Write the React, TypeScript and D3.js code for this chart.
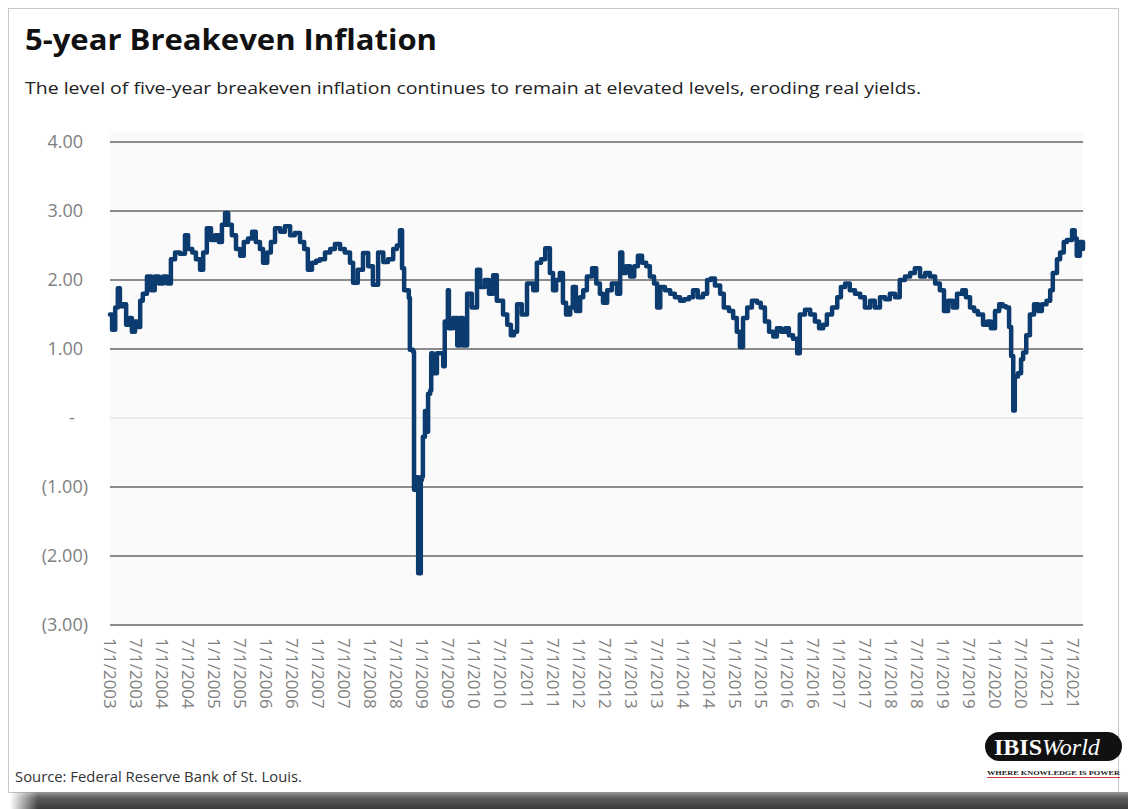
import React from "react";
import * as d3 from "d3";

const yearsFrac = [
  2003.00, 2003.04, 2003.10, 2003.15, 2003.19, 2003.25, 2003.31, 2003.37, 2003.42, 2003.48, 2003.52, 2003.58, 2003.63, 2003.71, 2003.79, 2003.86, 2003.94,
  2004.02, 2004.10, 2004.17, 2004.25, 2004.34, 2004.44, 2004.50, 2004.58, 2004.65, 2004.73, 2004.79, 2004.86, 2004.94,
  2005.02, 2005.09, 2005.15, 2005.21, 2005.27, 2005.34, 2005.42, 2005.50, 2005.57, 2005.65, 2005.73, 2005.80, 2005.88, 2005.94,
  2006.02, 2006.09, 2006.17, 2006.27, 2006.36, 2006.46, 2006.55, 2006.65, 2006.73, 2006.80, 2006.88, 2006.96,
  2007.03, 2007.13, 2007.23, 2007.32, 2007.42, 2007.51, 2007.61, 2007.67, 2007.76, 2007.86, 2007.96,
  2008.05, 2008.15, 2008.25, 2008.34, 2008.44, 2008.51, 2008.57, 2008.61, 2008.65, 2008.74, 2008.76, 2008.82, 2008.84, 2008.90, 2008.92, 2008.97, 2008.99,
  2009.01, 2009.05, 2009.09, 2009.11, 2009.15, 2009.17, 2009.20, 2009.28, 2009.40, 2009.43, 2009.49, 2009.51, 2009.59, 2009.67, 2009.72, 2009.78, 2009.86, 2009.95,
  2010.05, 2010.11, 2010.20, 2010.28, 2010.36, 2010.43, 2010.55, 2010.63, 2010.70, 2010.76, 2010.82, 2010.91,
  2011.01, 2011.13, 2011.20, 2011.28, 2011.36, 2011.45, 2011.51, 2011.57, 2011.64, 2011.70, 2011.76, 2011.84, 2011.89, 2011.95,
  2012.03, 2012.09, 2012.16, 2012.26, 2012.34, 2012.41, 2012.47, 2012.55, 2012.64, 2012.74, 2012.80, 2012.84, 2012.91, 2012.99,
  2013.07, 2013.14, 2013.22, 2013.30, 2013.37, 2013.45, 2013.51, 2013.57, 2013.66, 2013.76, 2013.85, 2013.95,
  2014.03, 2014.12, 2014.20, 2014.29, 2014.39, 2014.47, 2014.54, 2014.62, 2014.72, 2014.79, 2014.89, 2014.97,
  2015.04, 2015.10, 2015.16, 2015.24, 2015.33, 2015.43, 2015.50, 2015.58, 2015.66, 2015.74, 2015.81, 2015.89, 2015.97,
  2016.04, 2016.12, 2016.20, 2016.25, 2016.35, 2016.45, 2016.54, 2016.62, 2016.70, 2016.77, 2016.87, 2016.97,
  2017.04, 2017.12, 2017.21, 2017.31, 2017.41, 2017.50, 2017.60, 2017.69, 2017.79, 2017.89, 2017.98,
  2018.08, 2018.17, 2018.27, 2018.37, 2018.46, 2018.56, 2018.66, 2018.75, 2018.85, 2018.94,
  2019.02, 2019.10, 2019.19, 2019.27, 2019.37, 2019.44, 2019.52, 2019.60, 2019.67, 2019.77, 2019.85, 2019.92,
  2020.00, 2020.08, 2020.15, 2020.21, 2020.27, 2020.31, 2020.35, 2020.38, 2020.44, 2020.50, 2020.54, 2020.60, 2020.67, 2020.75, 2020.83, 2020.90, 2020.99,
  2021.06, 2021.11, 2021.19, 2021.25, 2021.32, 2021.38, 2021.48, 2021.53, 2021.57, 2021.63, 2021.69,
];

const breakevenValues = [
  1.50, 1.28, 1.60, 1.88, 1.62, 1.65, 1.35, 1.45, 1.25, 1.40, 1.32, 1.70, 1.80, 2.05, 1.85, 2.05, 1.95,
  2.05, 1.95, 2.30, 2.40, 2.38, 2.65, 2.45, 2.40, 2.30, 2.15, 2.40, 2.75, 2.58,
  2.65, 2.55, 2.80, 2.97, 2.80, 2.65, 2.45, 2.35, 2.55, 2.60, 2.70, 2.55, 2.45, 2.25,
  2.40, 2.55, 2.75, 2.70, 2.78, 2.65, 2.68, 2.55, 2.45, 2.15, 2.25, 2.28,
  2.30, 2.40, 2.45, 2.52, 2.45, 2.40, 2.25, 1.96, 2.15, 2.39, 2.20,
  1.93, 2.40, 2.26, 2.30, 2.45, 2.50, 2.72, 2.17, 1.85, 1.74, 0.99, 0.96, -1.04, -0.86, -2.25, -0.90, -0.85,
  -0.27, 0.10, -0.20, 0.35, 0.40, 0.94, 0.65, 0.94, 0.75, 1.40, 1.85, 1.30, 1.45, 1.05, 1.45, 1.05, 1.80, 1.60,
  2.15, 1.90, 2.00, 1.80, 2.07, 1.70, 1.50, 1.35, 1.20, 1.25, 1.65, 1.50,
  1.95, 1.85, 2.25, 2.30, 2.46, 2.10, 1.85, 2.00, 2.10, 1.67, 1.50, 1.60, 1.90, 1.55,
  1.75, 1.85, 2.05, 2.17, 1.95, 1.80, 1.67, 1.85, 1.95, 1.80, 2.40, 2.10, 2.20, 2.05,
  2.20, 2.35, 2.25, 2.20, 2.05, 1.95, 1.60, 1.90, 1.85, 1.80, 1.75, 1.70,
  1.72, 1.75, 1.85, 1.75, 1.80, 2.00, 2.02, 1.92, 1.80, 1.60, 1.55, 1.45,
  1.25, 1.03, 1.45, 1.60, 1.70, 1.67, 1.60, 1.40, 1.25, 1.18, 1.30, 1.25, 1.30,
  1.20, 1.15, 0.94, 1.50, 1.57, 1.50, 1.40, 1.30, 1.35, 1.50, 1.60, 1.75,
  1.90, 1.95, 1.85, 1.80, 1.75, 1.60, 1.70, 1.60, 1.75, 1.72, 1.80,
  1.75, 2.00, 2.05, 2.10, 2.17, 2.05, 2.10, 2.05, 1.95, 1.85,
  1.55, 1.70, 1.60, 1.80, 1.85, 1.75, 1.60, 1.55, 1.50, 1.35, 1.40, 1.30,
  1.55, 1.65, 1.62, 1.60, 1.32, 0.90, 0.11, 0.60, 0.65, 0.85, 0.95, 1.20, 1.50, 1.65, 1.55, 1.65, 1.70,
  1.85, 2.10, 2.30, 2.40, 2.55, 2.58, 2.72, 2.60, 2.35, 2.55, 2.45,
];

const yTicks = [4, 3, 2, 1, 0, -1, -2, -3];
const yTickLabels = ["4.00", "3.00", "2.00", "1.00", "-", "(1.00)", "(2.00)", "(3.00)"];

const xTickLabels = [
  "1/1/2003", "7/1/2003", "1/1/2004", "7/1/2004", "1/1/2005", "7/1/2005", "1/1/2006", "7/1/2006",
  "1/1/2007", "7/1/2007", "1/1/2008", "7/1/2008", "1/1/2009", "7/1/2009", "1/1/2010", "7/1/2010",
  "1/1/2011", "7/1/2011", "1/1/2012", "7/1/2012", "1/1/2013", "7/1/2013", "1/1/2014", "7/1/2014",
  "1/1/2015", "7/1/2015", "1/1/2016", "7/1/2016", "1/1/2017", "7/1/2017", "1/1/2018", "7/1/2018",
  "1/1/2019", "7/1/2019", "1/1/2020", "7/1/2020", "1/1/2021", "7/1/2021",
];

const titleText = "5-year Breakeven Inflation";
const subtitleText = "The level of five-year breakeven inflation continues to remain at elevated levels, eroding real yields.";
const sourceText = "Source: Federal Reserve Bank of St. Louis.";

const labelToYear = (s: string) => {
  const [m, , y] = s.split("/").map(Number);
  return y + (m - 1) / 12;
};

export default function App() {
  const W = 1128;
  const H = 809;
  const plotLeft = 110;
  const plotRight = 1083;
  const x = d3.scaleLinear().domain([2003, 2021.69]).range([plotLeft, plotRight]);
  const y = d3.scaleLinear().domain([-3, 4]).range([625, 142]);

  const pts = yearsFrac.map((t, i) => [t, breakevenValues[i]] as [number, number]);
  const line = d3
    .line<[number, number]>()
    .x((d) => x(d[0]))
    .y((d) => y(d[1]))
    .curve(d3.curveStepAfter);

  const axisFont = "'Open Sans', 'Noto Sans', sans-serif";
  const gray = "#808080";

  return (
    <svg
      width={W}
      height={H}
      viewBox={`0 0 ${W} ${H}`}
      style={{ position: "absolute", left: 0, top: 0, background: "#fff" }}
    >
      <defs>
        <linearGradient id="shadowV" x1="0" y1="0" x2="0" y2="1">
          <stop offset="0" stopColor="#9a9a9a" />
          <stop offset="0.35" stopColor="#5c5c5c" />
          <stop offset="1" stopColor="#3a3a3a" />
        </linearGradient>
        <linearGradient id="shadowH" x1="0" y1="0" x2="1" y2="0">
          <stop offset="0" stopColor="#fff" stopOpacity="0" />
          <stop offset="0.025" stopColor="#fff" stopOpacity="1" />
          <stop offset="1" stopColor="#fff" stopOpacity="1" />
        </linearGradient>
        <mask id="shadowMask">
          <rect x={10} y={790} width={W - 10} height={H - 790} fill="url(#shadowH)" />
        </mask>
      </defs>
      <rect x={0} y={0} width={W} height={H} fill="#fff" />
      {/* frame */}
      <rect x={8.5} y={8.5} width={1110} height={784} fill="none" stroke="#c8c8c8" strokeWidth={1} />
      {/* bottom shadow */}
      <rect x={10} y={792} width={W - 10} height={H - 792} fill="url(#shadowV)" mask="url(#shadowMask)" />

      {/* titles */}
      <text
        x={25}
        y={50}
        fontFamily={axisFont}
        fontWeight={700}
        fontSize={28}
        fill="#111"
        textLength={412}
        lengthAdjust="spacingAndGlyphs"
      >
        {titleText}
      </text>
      <text
        x={25}
        y={94}
        fontFamily={axisFont}
        fontSize={17}
        fill="#222"
        textLength={896}
        lengthAdjust="spacingAndGlyphs"
      >
        {subtitleText}
      </text>

      {/* plot background */}
      <rect x={plotLeft} y={132} width={plotRight - plotLeft} height={625 - 132} fill="#fafafa" />

      {/* gridlines */}
      {yTicks.map((t) => (
        <line
          key={t}
          x1={plotLeft}
          x2={plotRight}
          y1={y(t)}
          y2={y(t)}
          stroke={t === 0 ? "#dcdcdc" : "#8c8c8c"}
          strokeWidth={t === 0 ? 1 : 2}
        />
      ))}

      {/* y labels */}
      {yTicks.map((t, i) => (
        <text
          key={t}
          x={t === 0 ? 72 : t < 0 ? 88 : 83}
          y={y(t)}
          dy="0.35em"
          textAnchor={t === 0 ? "middle" : "end"}
          fontFamily={axisFont}
          fontSize={18}
          fill={gray}
        >
          {yTickLabels[i]}
        </text>
      ))}

      {/* x labels */}
      {xTickLabels.map((s) => {
        const px = x(labelToYear(s));
        return (
          <text
            key={s}
            transform={`translate(${px},638) rotate(90)`}
            dy="0.35em"
            textAnchor="start"
            fontFamily={axisFont}
            fontSize={17}
            fill={gray}
          >
            {s}
          </text>
        );
      })}

      {/* data line */}
      <path
        d={line(pts) || ""}
        fill="none"
        stroke="#0c3b6f"
        strokeWidth={4.5}
        strokeLinejoin="round"
        strokeLinecap="round"
      />

      {/* source */}
      <text
        x={15}
        y={782}
        fontFamily={axisFont}
        fontSize={14}
        fill="#333"
        textLength={287}
        lengthAdjust="spacingAndGlyphs"
      >
        {sourceText}
      </text>

      {/* IBISWorld logo */}
      <rect x={985} y={732} width={137} height={29} rx={14.5} fill="#111" />
      <text x={994} y={755} fontFamily="'Liberation Serif', 'DejaVu Serif', serif" fontSize={24} fill="#fff">
        <tspan fontWeight={700}>IBIS</tspan>
        <tspan fontStyle="italic">World</tspan>
      </text>
      <text
        x={987}
        y={775}
        fontFamily="'Liberation Serif', serif"
        fontWeight={700}
        fontSize={7}
        fill="#222"
        textLength={133}
        lengthAdjust="spacingAndGlyphs"
      >
        WHERE KNOWLEDGE IS POWER
      </text>
      <line x1={987} x2={1120} y1={777.5} y2={777.5} stroke="#d04040" strokeWidth={1} />
    </svg>
  );
}
